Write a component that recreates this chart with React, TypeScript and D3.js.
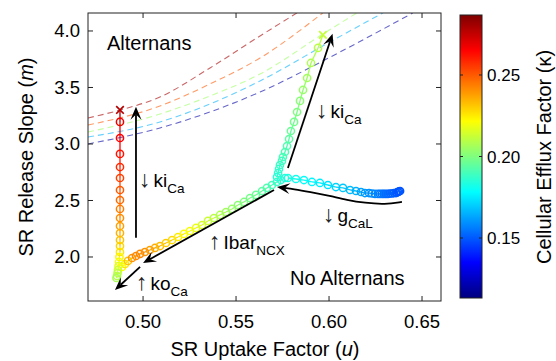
import * as d3 from "d3";

// colour range of the colorbar (cellular efflux factor kappa)
const K_MIN = 0.1132;
const K_MAX = 0.2868;

const xTicks = [0.5, 0.55, 0.6, 0.65];
const yTicks = [2.0, 2.5, 3.0, 3.5, 4.0];
const cTicks = [0.15, 0.2, 0.25];

// alternans boundaries (dashed), one per kappa value
const boundaryK = [0.28, 0.25, 0.205, 0.165, 0.12];
const boundaryU = [
  [0.4704, 0.4876, 0.5091, 0.536, 0.5629, 0.5828],
  [0.4704, 0.5091, 0.536, 0.5629, 0.5967],
  [0.4704, 0.5091, 0.536, 0.5629, 0.5967, 0.615],
  [0.4704, 0.5091, 0.536, 0.5629, 0.6005, 0.629],
  [0.4704, 0.5091, 0.536, 0.5629, 0.6059, 0.6451],
];
const boundaryM = [
  [3.23, 3.3, 3.416, 3.673, 3.956, 4.16],
  [3.168, 3.336, 3.531, 3.761, 4.16],
  [3.106, 3.265, 3.425, 3.619, 3.973, 4.16],
  [3.062, 3.195, 3.354, 3.558, 3.903, 4.16],
  [3.0, 3.142, 3.283, 3.46, 3.814, 4.16],
];

// ki_Ca branch on the left (top -> bottom)
const kiLeftU = [
  0.4876, 0.4876, 0.4876, 0.4876, 0.4876, 0.4876, 0.4876, 0.4876, 0.4876, 0.4876, 0.4876,
  0.4876, 0.4876, 0.4876, 0.4873, 0.4871, 0.4868, 0.4865, 0.4863, 0.486, 0.4857,
];
const kiLeftM = [
  3.195, 3.053, 2.912, 2.796, 2.699, 2.593, 2.504, 2.425, 2.345, 2.274, 2.212, 2.15, 2.097,
  2.044, 2.0, 1.956, 1.92, 1.885, 1.858, 1.832, 1.814,
];
const kiLeftK = [
  0.268, 0.265, 0.262, 0.258, 0.254, 0.25, 0.247, 0.244, 0.241, 0.238, 0.235, 0.232, 0.229,
  0.226, 0.223, 0.22, 0.217, 0.214, 0.211, 0.209, 0.207,
];
const kiLeftCross = [0.4876, 3.301, 0.278];

// Ibar_NCX branch (lower left -> junction)
const ncxU = [
  0.4887, 0.4903, 0.4919, 0.4941, 0.4962, 0.4984, 0.501, 0.5037, 0.5064, 0.5091, 0.5123,
  0.5156, 0.5188, 0.522, 0.5252, 0.5285, 0.5317, 0.5349, 0.5381, 0.5414, 0.5446, 0.5478,
  0.551, 0.5543, 0.5575, 0.5607, 0.564, 0.5666, 0.5693, 0.572, 0.5741, 0.5763,
];
const ncxM = [
  1.912, 1.938, 1.965, 1.991, 2.009, 2.027, 2.044, 2.062, 2.08, 2.097, 2.124, 2.15, 2.177,
  2.204, 2.23, 2.257, 2.283, 2.319, 2.345, 2.372, 2.398, 2.425, 2.46, 2.487, 2.522, 2.549,
  2.584, 2.611, 2.637, 2.664, 2.681, 2.699,
];
const ncxK = [
  0.222, 0.226, 0.232, 0.24, 0.242, 0.242, 0.24, 0.238, 0.236, 0.233, 0.23, 0.228, 0.225,
  0.222, 0.22, 0.218, 0.215, 0.213, 0.21, 0.208, 0.206, 0.204, 0.202, 0.2, 0.198, 0.196,
  0.194, 0.192, 0.19, 0.188, 0.186, 0.185,
];

// ki_Ca branch on the right (junction -> top)
const kiRightU = [
  0.572, 0.5726, 0.5731, 0.5736, 0.5747, 0.5752, 0.5763, 0.5774, 0.5785, 0.5795, 0.5812,
  0.5828, 0.5844, 0.586, 0.5882, 0.5903, 0.5941,
];
const kiRightM = [
  2.708, 2.743, 2.779, 2.814, 2.85, 2.885, 2.929, 2.982, 3.044, 3.115, 3.195, 3.283, 3.381,
  3.478, 3.584, 3.717, 3.85,
];
const kiRightK = [
  0.185, 0.186, 0.187, 0.188, 0.189, 0.19, 0.191, 0.192, 0.194, 0.196, 0.198, 0.2, 0.202,
  0.204, 0.206, 0.208, 0.21,
];
const kiRightCross = [0.5967, 3.965, 0.212];

// g_CaL branch (junction -> right)
const gcalU = [
  0.5779, 0.5822, 0.5865, 0.5908, 0.5951, 0.5994, 0.6037, 0.6075, 0.6113, 0.6145, 0.6172,
  0.6193, 0.6215, 0.6231, 0.6247, 0.6263, 0.6274, 0.6285, 0.6295, 0.6306, 0.6317, 0.6328,
  0.6339, 0.6349, 0.636, 0.6365, 0.6371, 0.6376, 0.6382,
];
const gcalM = [
  2.699, 2.69, 2.681, 2.664, 2.655, 2.637, 2.619, 2.611, 2.593, 2.584, 2.575, 2.566, 2.566,
  2.562, 2.558, 2.558, 2.558, 2.558, 2.558, 2.558, 2.558, 2.562, 2.562, 2.566, 2.566, 2.571,
  2.575, 2.58, 2.584,
];
const gcalK = [
  0.183, 0.181, 0.179, 0.177, 0.175, 0.173, 0.171, 0.169, 0.167, 0.165, 0.163, 0.161, 0.16,
  0.159, 0.158, 0.157, 0.156, 0.155, 0.154, 0.153, 0.153, 0.152, 0.152, 0.151, 0.151, 0.15,
  0.15, 0.149, 0.149,
];

// annotation arrows [u, m] from tail to tip
const arrowKiLeft = [[0.4962, 2.17], [0.4962, 3.33]];
const arrowKiRight = [[0.5779, 2.788], [0.6019, 3.975]];
const arrowNcx = [[0.5704, 2.593], [0.5, 1.947]];
const arrowKo = [[0.4984, 1.912], [0.4849, 1.708]];
const arrowGcal = [
  [0.6392, 2.487], [0.6301, 2.465], [0.6193, 2.478], [0.6096, 2.504], [0.6005, 2.54],
  [0.5898, 2.575], [0.5806, 2.602], [0.572, 2.619],
];

const W = 556;
const H = 361;
const FONT = "'Liberation Sans', Arial, Helvetica, sans-serif";
const box = { left: 88, top: 13, right: 441, bottom: 301 };
const cbar = { left: 460, right: 482, top: 15, bottom: 298 };

const jet = (k: number) => {
  const t = Math.max(0, Math.min(1, (k - K_MIN) / (K_MAX - K_MIN)));
  const f = (v: number) =>
    Math.round(255 * Math.max(0, Math.min(1, 1.5 - Math.abs(4 * t - v))));
  return `rgb(${f(3)},${f(2)},${f(1)})`;
};

const x = d3.scaleLinear().domain([0.4704, 0.6602]).range([box.left, box.right]);
const y = d3.scaleLinear().domain([1.6106, 4.159]).range([box.bottom, box.top]);
const cy = d3.scaleLinear().domain([K_MIN, K_MAX]).range([cbar.bottom, cbar.top]);

const Trace = ({ u, m, k, cross, crossAt }: any) => {
  const pts = u.map((v: number, i: number) => ({ px: x(v), py: y(m[i]), c: jet(k[i]) }));
  let all = pts;
  if (cross) {
    const cp = { px: x(cross[0]), py: y(cross[1]), c: jet(cross[2]) };
    all = crossAt === "start" ? [cp, ...pts] : [...pts, cp];
  }
  return (
    <g>
      {all.slice(1).map((p: any, i: number) => (
        <line key={"l" + i} x1={all[i].px} y1={all[i].py} x2={p.px} y2={p.py}
          stroke={all[i].c} strokeWidth={1.3} />
      ))}
      {pts.map((p: any, i: number) => (
        <circle key={"c" + i} cx={p.px} cy={p.py} r={3.6} fill="none" stroke={p.c} strokeWidth={1.5} />
      ))}
      {cross && (
        <path
          d={`M${x(cross[0]) - 3.8},${y(cross[1]) - 3.8}L${x(cross[0]) + 3.8},${y(cross[1]) + 3.8}M${x(cross[0]) - 3.8},${y(cross[1]) + 3.8}L${x(cross[0]) + 3.8},${y(cross[1]) - 3.8}`}
          stroke={jet(cross[2])} strokeWidth={1.7} />
      )}
    </g>
  );
};

const Arrow = ({ pts, curved }: any) => {
  const p = pts.map((d: number[]) => [x(d[0]), y(d[1])]);
  const line = d3.line().curve(curved ? d3.curveBasis : d3.curveLinear);
  const [tx, ty] = p[p.length - 1];
  const [bx, by] = p[p.length - 2];
  const ang = Math.atan2(ty - by, tx - bx);
  const L = 13, Wd = 5.5;
  const ca = Math.cos(ang), sa = Math.sin(ang);
  const back = (d: number, s: number) => [tx - d * ca - s * sa, ty - d * sa + s * ca];
  const l1 = back(L, Wd), l2 = back(L, -Wd), n = back(L * 0.6, 0);
  // shorten the shaft so it ends in the head
  const shaft = p.slice();
  shaft[shaft.length - 1] = n;
  return (
    <g>
      <path d={line(shaft as any) || ""} fill="none" stroke="#000" strokeWidth={1.8} />
      <path d={`M${tx},${ty}L${l1[0]},${l1[1]}L${n[0]},${n[1]}L${l2[0]},${l2[1]}Z`} fill="#000" />
    </g>
  );
};

const Label = ({ px, py, arrow, main, sub }: any) => (
  <text x={px} y={py} fontSize={19} fill="#000">
    <tspan fontSize={23} fill="#222">{arrow + "\uFE0E"}</tspan>
    <tspan dx={3}>{main}</tspan>
    <tspan fontSize={13.5} dy={6}>{sub}</tspan>
  </text>
);

export default function App() {
  const bline = d3.line<[number, number]>().x((d) => x(d[0])).y((d) => y(d[1])).curve(d3.curveMonotoneX);
  const stops = d3.range(0, 65).map((i) => i / 64);
  return (
    <svg width={W} height={H} style={{ position: "absolute", left: 0, top: 0, background: "#fff" }}
      fontFamily={FONT}>
      <defs>
        <clipPath id="plotclip">
          <rect x={box.left} y={box.top} width={box.right - box.left} height={box.bottom - box.top} />
        </clipPath>
        <linearGradient id="jetgrad" x1="0" y1="1" x2="0" y2="0">
          {stops.map((s) => (
            <stop key={s} offset={s} stopColor={jet(K_MIN + s * (K_MAX - K_MIN))} />
          ))}
        </linearGradient>
      </defs>
      <rect width={W} height={H} fill="#fff" />

      <g clipPath="url(#plotclip)">
        {boundaryK.map((k, i) => (
          <path key={i}
            d={bline(boundaryU[i].map((u, j) => [u, boundaryM[i][j]] as [number, number])) || ""}
            fill="none" stroke={jet(k)} strokeOpacity={0.6} strokeWidth={1.1} strokeDasharray="6,4" />
        ))}
      </g>

      <Trace u={ncxU} m={ncxM} k={ncxK} />
      <Trace u={kiLeftU} m={kiLeftM} k={kiLeftK} cross={kiLeftCross} crossAt="start" />
      <Trace u={gcalU} m={gcalM} k={gcalK} />
      <Trace u={kiRightU} m={kiRightM} k={kiRightK} cross={kiRightCross} crossAt="end" />

      <Arrow pts={arrowKiLeft} />
      <Arrow pts={arrowKiRight} />
      <Arrow pts={arrowNcx} />
      <Arrow pts={arrowKo} />
      <Arrow pts={arrowGcal} curved />

      <Label px={139} py={187} arrow="↓" main="ki" sub="Ca" />
      <Label px={316} py={118} arrow="↓" main="ki" sub="Ca" />
      <Label px={209} py={249} arrow="↑" main="Ibar" sub="NCX" />
      <Label px={136} py={290} arrow="↑" main="ko" sub="Ca" />
      <Label px={323} py={222} arrow="↓" main="g" sub="CaL" />

      <text x={107} y={50} fontSize={20}>Alternans</text>
      <text x={290} y={285} fontSize={20}>No Alternans</text>

      {/* axes box with inward ticks */}
      <rect x={box.left} y={box.top} width={box.right - box.left} height={box.bottom - box.top}
        fill="none" stroke="#222" strokeWidth={1} />
      {xTicks.map((t) => (
        <g key={t}>
          <line x1={x(t)} x2={x(t)} y1={box.bottom} y2={box.bottom - 5} stroke="#222" />
          <line x1={x(t)} x2={x(t)} y1={box.top} y2={box.top + 5} stroke="#222" />
          <text x={x(t)} y={328} fontSize={18.5} textAnchor="middle">{t.toFixed(2)}</text>
        </g>
      ))}
      {yTicks.map((t) => (
        <g key={t}>
          <line x1={box.left} x2={box.left + 5} y1={y(t)} y2={y(t)} stroke="#222" />
          <line x1={box.right} x2={box.right - 5} y1={y(t)} y2={y(t)} stroke="#222" />
          <text x={80} y={y(t) + 6.5} fontSize={18.5} textAnchor="end">{t.toFixed(1)}</text>
        </g>
      ))}
      <text x={265} y={356} fontSize={20} textAnchor="middle">
        SR Uptake Factor (<tspan fontStyle="italic">u</tspan>)
      </text>
      <text transform={`translate(33,157) rotate(-90)`} fontSize={20} textAnchor="middle">
        SR Release Slope (<tspan fontStyle="italic">m</tspan>)
      </text>

      {/* colorbar */}
      <rect x={cbar.left} y={cbar.top} width={cbar.right - cbar.left} height={cbar.bottom - cbar.top}
        fill="url(#jetgrad)" stroke="#222" strokeWidth={1} />
      {cTicks.map((t) => (
        <g key={t}>
          <line x1={cbar.right} x2={cbar.right - 3} y1={cy(t)} y2={cy(t)} stroke="#222" />
          <line x1={cbar.left} x2={cbar.left + 3} y1={cy(t)} y2={cy(t)} stroke="#222" />
          <text x={487} y={cy(t) + 6} fontSize={17}>{t.toFixed(2)}</text>
        </g>
      ))}
      <text transform={`translate(551,157) rotate(-90)`} fontSize={20} textAnchor="middle">
        Cellular Efflux Factor (κ)
      </text>
    </svg>
  );
}
